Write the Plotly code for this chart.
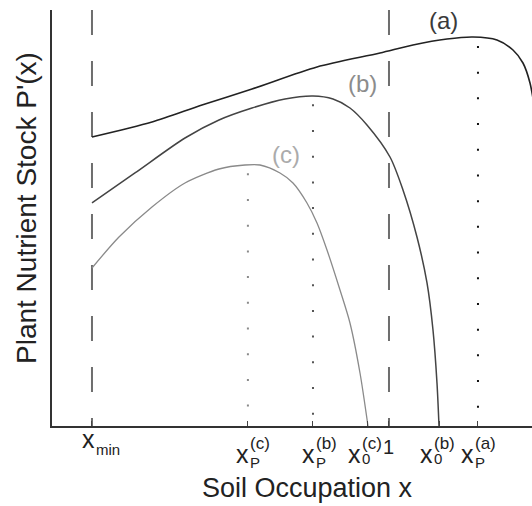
import numpy as np
import plotly.graph_objects as go

# ---------------- data (arbitrary units) ----------------
curve_a_x = [0.2, 0.3616, 0.4963, 0.6310, 0.8061, 0.9758, 1.0646, 1.1562, 1.2263,
             1.2909, 1.3340, 1.3609, 1.3798, 1.3960]
curve_a_y = [0.6947, 0.7308, 0.7716, 0.8101, 0.8630, 0.8966, 0.9159, 0.9303, 0.9351,
             0.9279, 0.9038, 0.8726, 0.8245, 0.7404]

curve_b_x = [0.2, 0.3158, 0.4505, 0.5421, 0.6310, 0.7199, 0.7953, 0.8492, 0.8949,
             0.9407, 1.0027, 1.0377, 1.0754, 1.1024, 1.1185, 1.1293, 1.1347]
curve_b_y = [0.5361, 0.6082, 0.6923, 0.7356, 0.7644, 0.7861, 0.7933, 0.7861, 0.7644,
             0.7236, 0.6466, 0.5673, 0.4543, 0.3438, 0.2308, 0.1034, 0.0]

curve_c_x = [0.2, 0.2727, 0.3616, 0.4505, 0.5421, 0.6121, 0.6525, 0.7064, 0.7414,
             0.7791, 0.8061, 0.8330, 0.8680, 0.8949, 0.9219, 0.9434]
curve_c_y = [0.3798, 0.4543, 0.5264, 0.5841, 0.6178, 0.6274, 0.6274, 0.6082, 0.5841,
             0.5361, 0.4880, 0.4231, 0.3269, 0.2476, 0.1274, 0.0]

curve_names = ["(a)", "(b)", "(c)"]

x_min = 0.2
x_one = 1.0
xP_a, xP_b, xP_c = 1.2397, 0.7953, 0.6200
x0_b, x0_c = 1.1347, 0.9434

tick_vals = [x_min, xP_c, xP_b, x0_c, x_one, x0_b, xP_a]
tick_base = ["x", "x", "x", "x", "1", "x", "x"]
tick_sub = ["min", "P", "P", "0", "", "0", "P"]
tick_sup = ["", "(c)", "(b)", "(c)", "", "(b)", "(a)"]

x_title = "Soil Occupation x"
y_title = "Plant Nutrient Stock P'(x)"

# ---------------- styles ----------------
FONT = "Liberation Sans, Arial, sans-serif"
X_RANGE = [0.0923, 1.3852]
Y_RANGE = [0.0, 1.0]

curve_colors = ["#222222", "#444444", "#8a8a8a"]
curve_widths = [1.6, 1.5, 1.3]
label_colors = ["#3a3a3a", "#8c8c8c", "#ababab"]
label_pos = [(1.1455, 0.975), (0.9273, 0.8245), (0.7226, 0.6538)]
dot_colors = ["#111111", "#555555", "#8a8a8a"]

# per tick-label pixel layout: base left offset, base yshift, sub yshift, sup yshift
base_dx = [-9, -11, -10, -19, 0, -18, -16]
base_dy = [-13, -28, -28, -28, -21, -28, -28]
sub_dy = [-23, -36, -36, -32, 0, -32, -36]
sup_dy = [0, -17, -17, -17, 0, -17, -17]

fig = go.Figure()

curves = [(curve_a_x, curve_a_y), (curve_b_x, curve_b_y), (curve_c_x, curve_c_y)]

# dashed verticals at x_min and 1
for xv in [x_min, x_one]:
    fig.add_trace(go.Scatter(x=[xv, xv], y=[Y_RANGE[1], Y_RANGE[0]], mode="lines",
                             line=dict(color="#6e6e6e", width=2, dash="25px,26px"),
                             hoverinfo="skip", showlegend=False))

# dotted verticals at the peaks
for (cx, cy), xp, col in zip(curves, [xP_a, xP_b, xP_c], dot_colors):
    top = float(np.interp(xp, cx, cy)) - 0.02
    fig.add_trace(go.Scatter(x=[xp, xp], y=[top, 0], mode="lines",
                             line=dict(color=col, width=2, dash="2px,23.7px"),
                             hoverinfo="skip", showlegend=False))

# curves
for (cx, cy), col, w, nm in zip(curves, curve_colors, curve_widths, curve_names):
    fig.add_trace(go.Scatter(x=cx, y=cy, mode="lines", name=nm,
                             line=dict(color=col, width=w, shape="spline", smoothing=0.8),
                             showlegend=False))

annotations = []
for nm, (lx, ly), col in zip(curve_names, label_pos, label_colors):
    annotations.append(dict(x=lx, y=ly, xref="x", yref="y", text=nm, showarrow=False,
                            font=dict(family=FONT, size=24, color=col),
                            xanchor="center", yanchor="middle"))

for i, tv in enumerate(tick_vals):
    if tick_base[i] == "1":
        annotations.append(dict(x=tv, y=0, xref="x", yref="paper", text=tick_base[i],
                                showarrow=False, font=dict(family=FONT, size=20, color="#222"),
                                xanchor="center", yanchor="middle", yshift=base_dy[i]))
        continue
    annotations.append(dict(x=tv, y=0, xref="x", yref="paper", text=tick_base[i],
                            showarrow=False, font=dict(family=FONT, size=25, color="#222"),
                            xanchor="left", yanchor="middle",
                            xshift=base_dx[i] - 3, yshift=base_dy[i]))
    if tick_sub[i]:
        annotations.append(dict(x=tv, y=0, xref="x", yref="paper", text=tick_sub[i],
                                showarrow=False, font=dict(family=FONT, size=15, color="#222"),
                                xanchor="left", yanchor="middle",
                                xshift=base_dx[i] + 14 - 3, yshift=sub_dy[i]))
    if tick_sup[i]:
        annotations.append(dict(x=tv, y=0, xref="x", yref="paper", text=tick_sup[i],
                                showarrow=False, font=dict(family=FONT, size=17, color="#222"),
                                xanchor="left", yanchor="middle",
                                xshift=base_dx[i] + 14 - 3, yshift=sup_dy[i]))

annotations.append(dict(x=0.5333, y=0, xref="paper", yref="paper", text=x_title,
                        showarrow=False, font=dict(family=FONT, size=27, color="#222"),
                        xanchor="center", yanchor="middle", yshift=-62))
annotations.append(dict(x=0, y=0.524, xref="paper", yref="paper", text=y_title,
                        showarrow=False, textangle=-90,
                        font=dict(family=FONT, size=28, color="#222"),
                        xanchor="center", yanchor="middle", xshift=-26))

fig.update_layout(
    width=532, height=506,
    margin=dict(l=52, r=0, t=10, b=80, pad=0),
    paper_bgcolor="white", plot_bgcolor="white",
    annotations=annotations,
    xaxis=dict(range=X_RANGE, showgrid=False, zeroline=False, showline=True,
               linecolor="#333", linewidth=1.5, ticks="inside", ticklen=5,
               tickcolor="#444", tickwidth=1, tickvals=tick_vals, showticklabels=False),
    yaxis=dict(range=Y_RANGE, showgrid=False, zeroline=False, showline=True,
               linecolor="#333", linewidth=1.5, ticks="", showticklabels=False),
)

fig.write_html("out.html", config={"displayModeBar": False},
               post_script="document.body.style.margin='0px';document.body.style.overflow='hidden';")
